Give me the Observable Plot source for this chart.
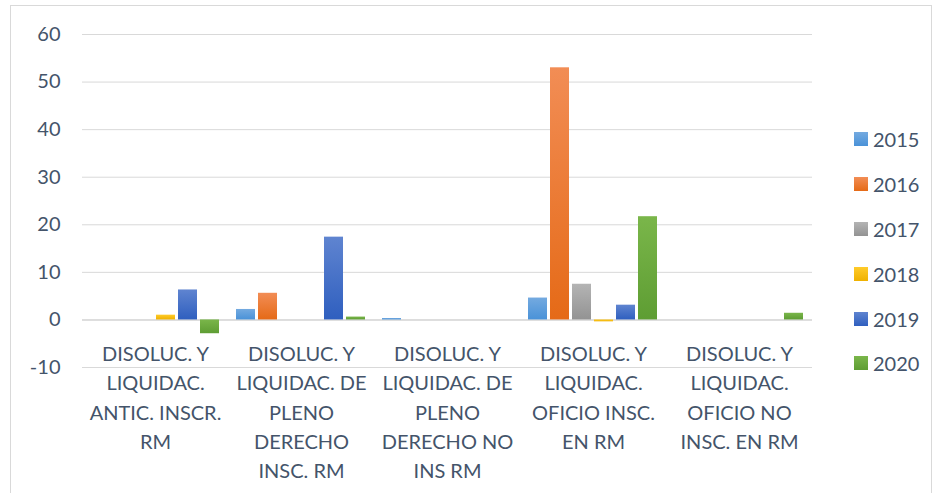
<!DOCTYPE html>
<html>
<head>
<meta charset="utf-8">
<script src="https://cdn.jsdelivr.net/npm/d3@7"></script>
<script src="https://cdn.jsdelivr.net/npm/@observablehq/plot@0.6"></script>
<style>
  html, body { margin: 0; padding: 0; background: #fff; }
  #wrap { position: relative; width: 935px; height: 493px; overflow: hidden; font-family: Lato, "Open Sans", sans-serif; }
  #frame { position: absolute; left: 10px; top: 5px; width: 922px; height: 492px; border: 1px solid #d9d9d9; box-sizing: border-box; }
  #chart { position: absolute; left: 0; top: 0; }
  #legend { position: absolute; left: 854px; top: 0; }
  .item { position: absolute; left: 0; display: flex; align-items: center; white-space: nowrap; height: 24px; }
  .sw { width: 14px; height: 14px; margin-right: 5px; }
  .lab { font-size: 20px; color: #44546a; }
</style>
</head>
<body>
<div id="wrap">
  <div id="frame"></div>
  <div id="chart"></div>
  <div id="legend"></div>
</div>
<script>
// ---- data ----
const categories = [
  "DISOLUC. Y LIQUIDAC. ANTIC. INSCR. RM",
  "DISOLUC. Y LIQUIDAC. DE PLENO DERECHO INSC. RM",
  "DISOLUC. Y LIQUIDAC. DE PLENO DERECHO NO INS RM",
  "DISOLUC. Y LIQUIDAC. OFICIO INSC. EN RM",
  "DISOLUC. Y LIQUIDAC. OFICIO NO INSC. EN RM"
];
const categoryLabels = [
  "DISOLUC. Y\nLIQUIDAC.\nANTIC. INSCR.\nRM",
  "DISOLUC. Y\nLIQUIDAC. DE\nPLENO\nDERECHO\nINSC. RM",
  "DISOLUC. Y\nLIQUIDAC. DE\nPLENO\nDERECHO NO\nINS RM",
  "DISOLUC. Y\nLIQUIDAC.\nOFICIO INSC.\nEN RM",
  "DISOLUC. Y\nLIQUIDAC.\nOFICIO NO\nINSC. EN RM"
];
const years = ["2015", "2016", "2017", "2018", "2019", "2020"];
const v2015 = [0, 2.2, 0.3, 4.6, 0];
const v2016 = [0, 5.6, 0, 53, 0];
const v2017 = [0, 0, 0, 7.5, 0];
const v2018 = [1.0, 0, 0, -0.4, 0];
const v2019 = [6.3, 17.4, 0, 3.1, 0];
const v2020 = [-2.9, 0.6, 0, 21.7, 1.4];
const yTicks = [-10, 0, 10, 20, 30, 40, 50, 60];

const seriesValues = { "2015": v2015, "2016": v2016, "2017": v2017, "2018": v2018, "2019": v2019, "2020": v2020 };
const gradients = {
  "2015": ["#74aae0", "#4a92d8"],
  "2016": ["#f28d55", "#e56a17"],
  "2017": ["#b4b4b4", "#939393"],
  "2018": ["#ffcb2a", "#efb100"],
  "2019": ["#5f84d0", "#2f5fbf"],
  "2020": ["#7ab64a", "#5e9d33"]
};

const rows = [];
years.forEach(y => seriesValues[y].forEach((v, i) => rows.push({ cat: categories[i], year: y, value: v })));
const catRows = categories.map((c, i) => ({ cat: c, label: categoryLabels[i] }));

const txt = "#44546a";
const font = "Lato, 'Open Sans', sans-serif";

const plot = Plot.plot({
  width: 935,
  height: 493,
  marginLeft: 82,
  marginRight: 123,
  marginTop: 34,
  marginBottom: 126,
  style: { fontFamily: font, background: "transparent", overflow: "visible" },
  fx: { domain: categories, padding: 0, axis: null },
  x: { domain: years, paddingInner: 0.136, paddingOuter: 0.386, axis: null },
  y: { domain: [-10, 60], axis: null },
  marks: [
    Plot.gridY(yTicks, { stroke: "#d9d9d9", strokeOpacity: 1, strokeWidth: 1 }),
    Plot.ruleY([0], { stroke: "#d9d9d9", strokeWidth: 1.6 }),
    Plot.axisY({ ticks: yTicks, tickSize: 0, tickPadding: 22, fontSize: 20, fill: txt, label: null, tickFormat: d => String(d) }),
    ...years.map(y => Plot.barY(rows.filter(d => d.year === y), {
      fx: "cat", x: "year", y: "value", fill: `url(#g${y})`
    })),
    Plot.text(catRows, {
      fx: "cat", y: 0, text: "label", lineAnchor: "top", dy: 20, lineHeight: 1.47,
      fontSize: 20, fill: txt, fontFamily: font
    })
  ]
});

const svg = d3.select(plot);
const defs = svg.insert("defs", ":first-child");
years.forEach(y => {
  const g = defs.append("linearGradient").attr("id", `g${y}`).attr("x1", 0).attr("y1", 0).attr("x2", 0).attr("y2", 1);
  g.append("stop").attr("offset", "0%").attr("stop-color", gradients[y][0]);
  g.append("stop").attr("offset", "100%").attr("stop-color", gradients[y][1]);
});
document.getElementById("chart").appendChild(plot);

// legend
const legend = document.getElementById("legend");
const legendTop = [139, 184, 229, 274, 319, 363];
years.forEach((y, i) => {
  const it = document.createElement("div");
  it.className = "item";
  it.style.top = (legendTop[i] - 12) + "px";
  const sw = document.createElement("div");
  sw.className = "sw";
  sw.style.background = `linear-gradient(${gradients[y][0]}, ${gradients[y][1]})`;
  const lab = document.createElement("span");
  lab.className = "lab";
  lab.textContent = y;
  it.appendChild(sw);
  it.appendChild(lab);
  legend.appendChild(it);
});
</script>
</body>
</html>
